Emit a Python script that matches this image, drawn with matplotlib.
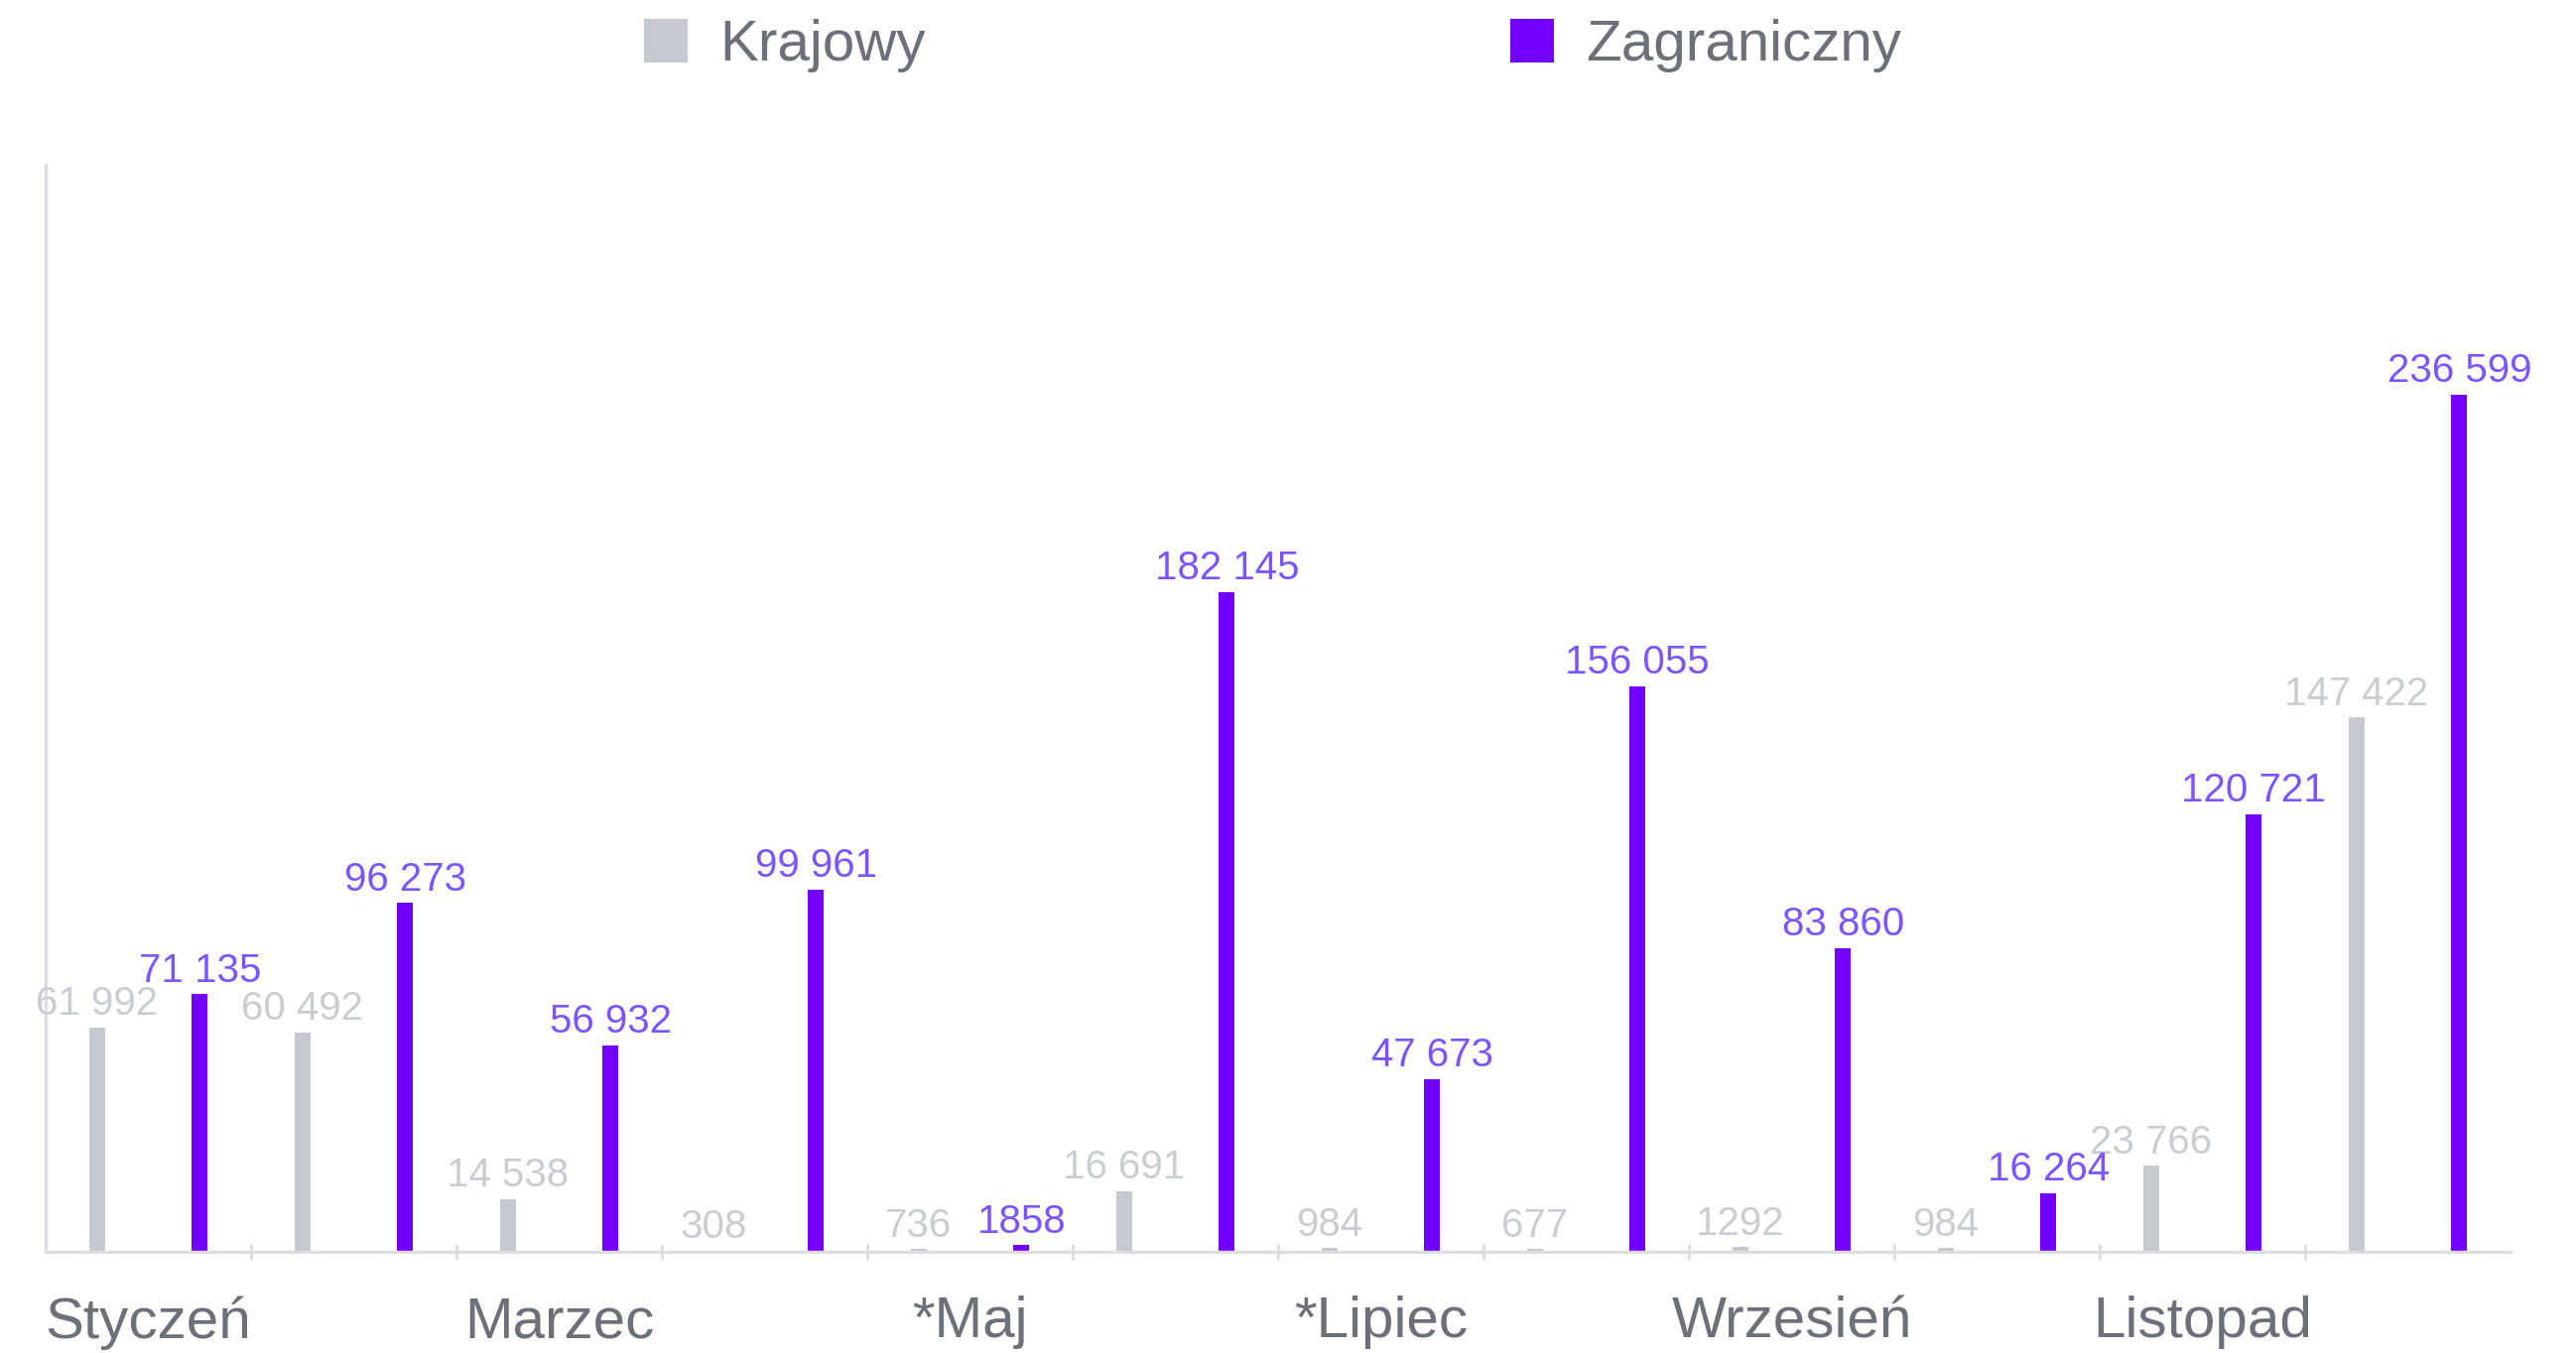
import numpy as np
import matplotlib.pyplot as plt
from matplotlib.ticker import FixedLocator

plt.rcParams['font.family'] = ['Liberation Sans', 'DejaVu Sans']

miesiace = ["Styczeń", "Luty", "Marzec", "Kwiecień", "*Maj", "Czerwiec",
            "*Lipiec", "Sierpień", "Wrzesień", "Październik", "Listopad", "Grudzień"]
krajowy = [61992, 60492, 14538, 308, 736, 16691, 984, 677, 1292, 984, 23766, 147422]
zagraniczny = [71135, 96273, 56932, 99961, 1858, 182145, 47673, 156055, 83860, 16264, 120721, 236599]

szary = '#c6c9cf'
fiolet = '#7300ff'
szary_txt = '#c9ccd1'
fiolet_txt = '#7b55ff'
tekst = '#6b7079'
os_kolor = '#dcdde0'


def fmt(v):
    if v >= 10000:
        return f"{v:,}".replace(",", " ")
    return str(v)


fig = plt.figure(figsize=(12.98, 6.82), dpi=200)
ax = fig.add_axes([0.0177, 0.0748, 0.9569, 0.8035])

x = np.arange(len(miesiace))
w = 0.077
b1 = ax.bar(x - 0.25, krajowy, w, color=szary, label='Krajowy')
b2 = ax.bar(x + 0.25, zagraniczny, w, color=fiolet, label='Zagraniczny')

for rect, v in zip(b1, krajowy):
    ax.annotate(fmt(v), (rect.get_x() + rect.get_width() / 2, v),
                xytext=(0, 4.5), textcoords='offset points',
                ha='center', va='baseline', fontsize=14.5, color=szary_txt)
for rect, v in zip(b2, zagraniczny):
    ax.annotate(fmt(v), (rect.get_x() + rect.get_width() / 2, v),
                xytext=(0, 4.5), textcoords='offset points',
                ha='center', va='baseline', fontsize=14.5, color=fiolet_txt)

ax.set_xlim(-0.5, len(miesiace) - 0.5)
ax.set_ylim(0, 300000)

ax.set_xticks(x[::2])
ax.set_xticklabels(miesiace[::2], fontsize=21, color=tekst)
ax.tick_params(axis='x', which='major', length=0, pad=16)
ax.xaxis.set_minor_locator(FixedLocator(x[:-1] + 0.5))
ax.tick_params(axis='x', which='minor', direction='inout', length=6,
               width=1, color=os_kolor)
ax.set_yticks([])

for s in ['top', 'right']:
    ax.spines[s].set_visible(False)
for s in ['left', 'bottom']:
    ax.spines[s].set_color(os_kolor)
    ax.spines[s].set_linewidth(1.2)

fig.legend(handles=[b1, b2], loc='center', bbox_to_anchor=(0.494, 0.966),
           ncol=2, frameon=False, fontsize=21, labelcolor=tekst,
           handlelength=0.76, handleheight=0.76, handletextpad=0.55,
           columnspacing=10.1)

fig.savefig('out.png', dpi=200)
